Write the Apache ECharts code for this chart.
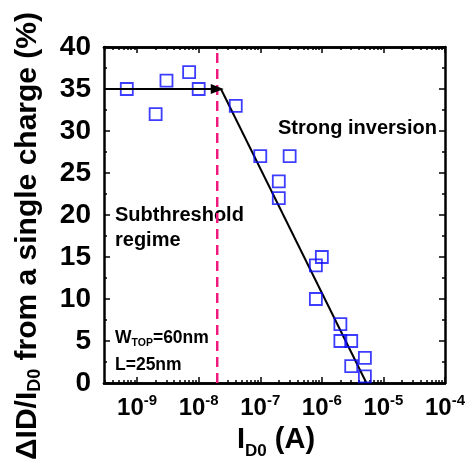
<!DOCTYPE html>
<html>
<head>
<meta charset="utf-8">
<script src="https://cdn.jsdelivr.net/npm/echarts@6/dist/echarts.min.js"></script>
<style>
html,body{margin:0;padding:0;background:#fff;}
#container{width:471px;height:464px;}
</style>
</head>
<body>
<div id="container"></div>
<script>
// measured points: drain current (A) and relative change (%)
var currentA = [6.8e-10, 2e-9, 3e-9, 7e-9, 1e-8, 4e-8, 1e-7, 3e-7, 2e-7, 2e-7, 8e-7, 1e-6, 8e-7, 2e-6, 2e-6, 3e-6, 3e-6, 5e-6, 5e-6];
var deltaPct = [35, 32, 36, 37, 35, 33, 27, 27, 24, 22, 14, 15, 10, 7, 5, 5, 2, 3, 0.8];

// fit line in strong inversion
var fitX = [2.3e-8, 5.3e-6];
var fitY = [35, 0];

// subthreshold level arrow and regime boundary
var arrowX = [2.9e-10, 2e-8];
var arrowY = 35;
var boundaryX = 2e-8;

var xMin = 2.9e-10, xMax = 1e-4;
var decades = [-9, -8, -7, -6, -5, -4];

function lg(v){ return Math.log10(v); }

var minorVals = [];
for (var n = -10; n < -4; n++) {
  for (var k = 2; k <= 9; k++) {
    var v = lg(k * Math.pow(10, n));
    if (v > lg(xMin) && v < lg(xMax)) minorVals.push(v);
  }
}

var pts = [];
for (var i = 0; i < currentA.length; i++) pts.push([lg(currentA[i]), deltaPct[i]]);

var myChart = echarts.init(document.getElementById('container'));

function xAx(pos, major, withLabel){
  return {
    type: 'value', position: pos, min: lg(xMin), max: lg(xMax),
    axisLine: {show: true, lineStyle: {color: '#000', width: 2.5}},
    axisTick: {show: true, inside: true, length: major ? 6 : 3,
      customValues: major ? decades : minorVals,
      lineStyle: {color: '#000', width: 1.5}},
    axisLabel: {show: withLabel, customValues: decades, margin: 10,
      formatter: function(v){ return '{b|10}{s|' + Math.round(v) + '}'; },
      rich: {
        b: {fontFamily: 'Arial', fontWeight: 'bold', fontSize: 24, color: '#000', lineHeight: 30},
        s: {fontFamily: 'Arial', fontWeight: 'bold', fontSize: 15, color: '#000', padding: [0, 0, 14, 0]}
      }},
    splitLine: {show: false}
  };
}

function yAx(pos, withLabel){
  return {
    type: 'value', position: pos, min: 0, max: 40, interval: 5,
    axisLine: {show: true, lineStyle: {color: '#000', width: 2.5}},
    axisTick: {show: true, inside: true, length: 6, lineStyle: {color: '#000', width: 1.5}},
    minorTick: {show: true, splitNumber: 2, length: 3, lineStyle: {color: '#000', width: 1.5}},
    axisLabel: {show: withLabel, margin: 13, fontFamily: 'Arial', fontWeight: 'bold', fontSize: 28, color: '#000'},
    splitLine: {show: false}
  };
}

option = {
  animation: false,
  backgroundColor: '#fff',
  grid: {left: 104, right: 26, top: 47, bottom: 81},
  xAxis: [xAx('bottom', true, true), xAx('bottom', false, false), xAx('top', true, false), xAx('top', false, false)],
  yAxis: [yAx('left', true), yAx('right', false)],
  graphic: [
    {type: 'text', x: 28, y: 236, rotation: Math.PI / 2, style: {
      text: '{a|ΔID/I}{d|D0}{a| from a single charge (%)}',
      align: 'center', verticalAlign: 'middle',
      rich: {
        a: {fontFamily: 'Arial', fontWeight: 'bold', fontSize: 30, fill: '#000'},
        d: {fontFamily: 'Arial', fontWeight: 'bold', fontSize: 18, fill: '#000', padding: [14, 0, 0, 0]}
      }}},
    {type: 'text', x: 276, y: 440, style: {
      text: '{a|I}{d|D0}{a| (A)}', align: 'center', verticalAlign: 'middle',
      rich: {
        a: {fontFamily: 'Arial', fontWeight: 'bold', fontSize: 29, fill: '#000'},
        d: {fontFamily: 'Arial', fontWeight: 'bold', fontSize: 17, fill: '#000', padding: [22, 0, 0, 0]}
      }}},
    {type: 'text', x: 278, y: 128, style: {text: 'Strong inversion', fontFamily: 'Arial', fontWeight: 'bold', fontSize: 20, fill: '#000', verticalAlign: 'middle'}},
    {type: 'text', x: 115, y: 215, style: {text: 'Subthreshold', fontFamily: 'Arial', fontWeight: 'bold', fontSize: 20, fill: '#000', verticalAlign: 'middle'}},
    {type: 'text', x: 115, y: 240, style: {text: 'regime', fontFamily: 'Arial', fontWeight: 'bold', fontSize: 20, fill: '#000', verticalAlign: 'middle'}},
    {type: 'text', x: 115, y: 338, style: {
      text: '{a|W}{d|TOP}{a|=60nm}', verticalAlign: 'middle',
      rich: {
        a: {fontFamily: 'Arial', fontWeight: 'bold', fontSize: 17.5, fill: '#000'},
        d: {fontFamily: 'Arial', fontWeight: 'bold', fontSize: 10.5, fill: '#000', padding: [10, 0, 0, 0]}
      }}},
    {type: 'text', x: 115, y: 365, style: {text: 'L=25nm', fontFamily: 'Arial', fontWeight: 'bold', fontSize: 17.5, fill: '#000', verticalAlign: 'middle'}}
  ],
  series: [
    {
      type: 'line', data: [[lg(fitX[0]), fitY[0]], [lg(fitX[1]), fitY[1]]],
      symbol: 'none', lineStyle: {color: '#000', width: 2}, z: 3
    },
    {
      type: 'line', data: [[lg(boundaryX), 0], [lg(boundaryX), 40]],
      symbol: 'none', lineStyle: {color: '#f0197d', width: 2.5, type: [10, 6]}, z: 2
    },
    {
      type: 'line', data: [[lg(arrowX[0]), arrowY], [lg(arrowX[1]), arrowY]],
      symbol: 'none', lineStyle: {width: 0, opacity: 0},
      markLine: {
        silent: true, symbol: ['none', 'triangle'], symbolSize: [10, 13],
        lineStyle: {color: '#000', width: 2, type: 'solid'},
        label: {show: false},
        data: [[{coord: [lg(arrowX[0]), arrowY]}, {coord: [lg(arrowX[1]), arrowY]}]]
      }, z: 3
    },
    {
      type: 'scatter', data: pts, symbol: 'rect', symbolSize: 12,
      itemStyle: {color: 'rgba(0,0,0,0)', borderColor: '#0d0dff', borderWidth: 1.8}, z: 4
    }
  ]
};
myChart.setOption(option);
</script>
</body>
</html>
